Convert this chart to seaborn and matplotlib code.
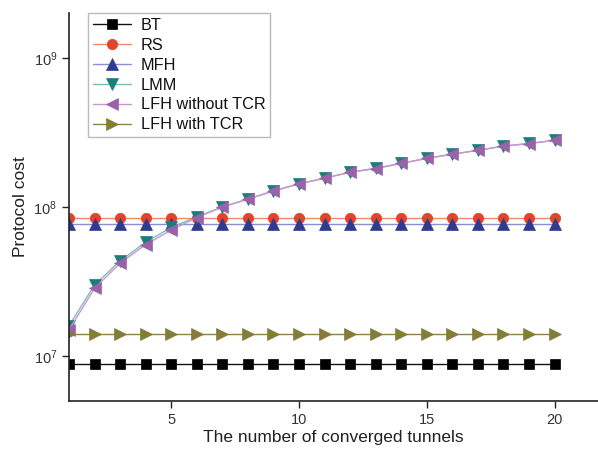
import matplotlib
matplotlib.use("Agg")
import numpy as np
import pandas as pd
import seaborn as sns
import matplotlib.pyplot as plt
from matplotlib.ticker import LogLocator, NullLocator

sns.set_theme(style="ticks")
plt.rcParams["font.family"] = ["Liberation Sans", "DejaVu Sans"]

tunnels = list(range(1, 21))
bt = [8.8e6] * 20
rs = [8.45e7] * 20
mfh = [7.7e7] * 20
lmm = [1.6e7, 3.0e7, 4.35e7, 5.8e7, 7.3e7, 8.6e7, 1.0e8, 1.13e8, 1.28e8, 1.43e8,
       1.56e8, 1.71e8, 1.82e8, 1.96e8, 2.12e8, 2.26e8, 2.40e8, 2.56e8, 2.67e8, 2.80e8]
lfh_no_tcr = [1.5e7, 2.85e7, 4.2e7, 5.6e7, 7.0e7, 8.5e7, 1.0e8, 1.13e8, 1.28e8, 1.43e8,
              1.56e8, 1.71e8, 1.81e8, 1.96e8, 2.12e8, 2.26e8, 2.40e8, 2.56e8, 2.66e8, 2.80e8]
lfh_tcr = [1.4e7] * 20

series = [
    ("BT", bt, "s", "#111111", "#000000", 6.5),
    ("RS", rs, "o", "#f08a6a", "#e0452a", 7.5),
    ("MFH", mfh, "^", "#8c8fd0", "#2f3b8f", 8),
    ("LMM", lmm, "v", "#7fbcbc", "#1f7c7c", 8),
    ("LFH without TCR", lfh_no_tcr, "<", "#c896d0", "#9a62a8", 8),
    ("LFH with TCR", lfh_tcr, ">", "#8c8440", "#837d38", 8),
]

fig = plt.figure(figsize=(5.98, 4.5), dpi=100)
ax = fig.add_axes([0.1154, 0.109, 0.8846, 0.862])

for name, vals, mk, lc, mc, ms in series:
    df = pd.DataFrame({"x": tunnels, "y": vals})
    sns.lineplot(data=df, x="x", y="y", ax=ax, label=name, color=lc,
                 marker=mk, markersize=ms, markerfacecolor=mc,
                 markeredgecolor=mc, markeredgewidth=0.5, linewidth=1.0)

ax.set_yscale("log")
ax.set_ylim(5e6, 2e9)
ax.set_xlim(1, 21.7)
ax.set_xticks([5, 10, 15, 20])
ax.yaxis.set_major_locator(LogLocator(base=10, numticks=10))
ax.yaxis.set_minor_locator(NullLocator())

for s in ["top", "right"]:
    ax.spines[s].set_visible(False)
for s in ["left", "bottom"]:
    ax.spines[s].set_color("#222222")
    ax.spines[s].set_linewidth(1.2)
ax.tick_params(axis="both", direction="out", length=5, width=1,
               labelsize=10.5, colors="#222222")
for t in ax.get_xticklabels() + ax.get_yticklabels():
    t.set_color("#333333")

ax.set_xlabel("The number of converged tunnels", fontsize=12.5, labelpad=2,
              color="#222222")
ax.set_ylabel("Protocol cost", fontsize=12.5, labelpad=4, color="#222222")

leg = ax.legend(loc="upper left", bbox_to_anchor=(0.036, 1.0), fontsize=11.7,
                frameon=True, fancybox=False, edgecolor="#aaaaaa",
                handlelength=2.35, labelspacing=0.3, borderpad=0.3,
                handletextpad=0.6, borderaxespad=0.0)
leg.get_frame().set_linewidth(1.0)
for t in leg.get_texts():
    t.set_color("#111111")

fig.savefig("out.png", dpi=100)
